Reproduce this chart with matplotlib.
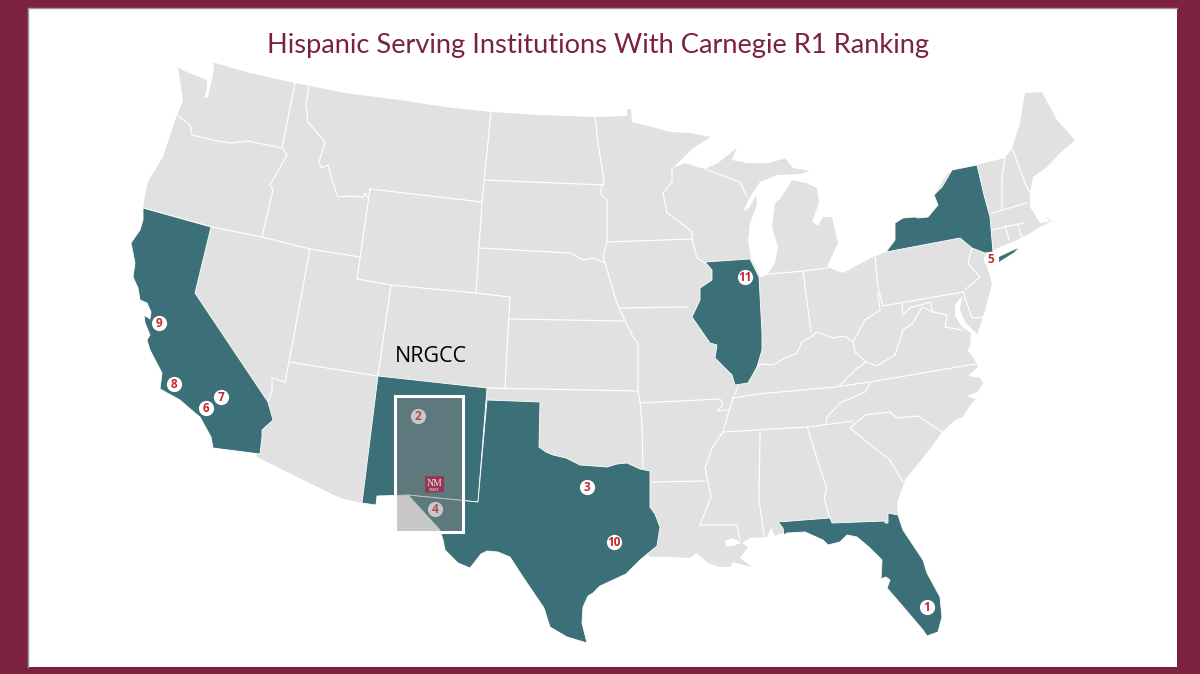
import matplotlib
matplotlib.use("Agg")
import matplotlib.pyplot as plt
from matplotlib.patches import Polygon, Rectangle

TITLE = "Hispanic Serving Institutions With Carnegie R1 Ranking"
REGION_LABEL = "NRGCC"
MAROON = "#7E2242"; LAND = "#E1E1E1"; TEAL = "#3C7079"; RED = "#C8252F"

# geography, traced in the picture's pixel space
LAND_OUTLINE = [(212,62),(250,73),(295,83),(345,93),(400,100),(445,107),(491,112),(540,115),(595,117),(627,116),(627,109),(631,109),(632,122),(652,127),(670,132),(690,133),(711,137),(693,148),(673,168),(685,163),(697,167),(705,169),(718,163),(733,151),(737,147),(732,160),(747,163),(770,163),(785,158),(793,168),(810,171),(800,174),(777,175),(760,182),(750,197),(743,212),(749,208),(756,195),(757,205),(750,223),(748,240),(751,258),(760,277),(767,275),(775,263),(778,247),(772,227),(775,203),(781,198),(792,180),(806,183),(817,188),(819,203),(812,222),(818,226),(823,217),(832,217),(838,243),(827,267),(843,273),(873,257),(886,252),(895,240),(895,223),(915,217),(928,217),(938,205),(934,195),(948,173),(977,165),(1005,158),(1012,148),(1020,123),(1025,93),(1042,92),(1057,120),(1075,140),(1060,153),(1047,167),(1033,177),(1030,193),(1030,207),(1040,223),(1050,222),(1046,217),(1052,221),(1040,227),(1027,235),(1017,240),(993,250),(987,254),(987,267),(992,283),(987,303),(983,317),(978,332),(973,343),(967,350),(973,357),(978,367),(968,376),(980,378),(983,383),(978,392),(966,396),(976,399),(970,405),(963,417),(955,420),(942,432),(933,445),(905,480),(897,503),(898,515),(888,530),(830,530),(783,533),(775,536),(771,528),(767,537),(750,538),(742,543),(748,547),(740,558),(752,567),(743,565),(733,562),(730,567),(720,567),(708,563),(697,553),(690,558),(673,557),(650,557),(600,500),(440,530),(408,495),(377,496),(376,505),(362,503),(340,498),(283,470),(257,457),(200,300),(143,207),(147,185),(150,178),(163,157),(177,115),(183,101),(178,67),(182,70),(207,80),(207,88),(204,98),(208,97),(210,88),(213,75),(214,65)]
WHITE_WATERS = [
    [(725,541),(733,538),(741,543),(733,546),(726,546)],
    [(962,296),(955,305),(955,316),(962,327),(971,333),(970,345),(975,346),(977,334),(965,322),(960,310)],
]
CALIFORNIA = [(143,208),(211,227),(195,293),(268,402),(273,420),(262,430),(262,437),(260,454),(213,448),(211,437),(200,417),(195,413),(180,400),(160,389),(162,373),(150,350),(147,340),(150,335),(145,323),(144,315),(150,319),(151,312),(147,303),(140,300),(138,288),(133,277),(135,263),(131,243),(140,230),(143,220)]
NEW_MEXICO = [(378,376),(487,388),(478,502),(408,495),(377,496),(376,505),(362,503)]
TEXAS = [(487,400),(540,402),(539,447),(546,452),(553,455),(566,458),(580,465),(594,466),(607,467),(617,464),(627,463),(640,469),(650,471),(650,507),(655,514),(660,527),(657,546),(640,560),(633,567),(626,574),(613,580),(600,586),(593,593),(588,596),(583,607),(582,623),(587,643),(567,637),(550,627),(544,608),(523,577),(510,557),(498,552),(487,551),(481,554),(470,568),(458,563),(445,550),(443,540),(440,530),(408,495),(478,502)]
ILLINOIS = [(705,262),(750,259),(759,277),(762,333),(762,350),(757,367),(748,383),(735,385),(732,375),(715,358),(717,345),(710,343),(703,333),(692,317),(700,300),(700,288),(712,280),(712,270)]
FLORIDA = [(778,522),(830,518),(832,523),(885,521),(885,523),(888,523),(888,513),(898,515),(903,530),(923,560),(927,573),(940,597),(942,617),(938,632),(927,636),(923,630),(900,603),(887,588),(890,580),(886,577),(883,578),(881,580),(882,560),(870,548),(857,537),(847,535),(840,542),(828,545),(823,540),(805,532),(787,533),(784,535),(783,528)]
NEW_YORK = [(886,252),(895,240),(895,223),(903,218),(915,217),(918,218),(928,217),(938,205),(934,195),(942,187),(952,170),(977,165),(984,195),(990,217),(993,252),(985,253),(972,248),(960,238)]
LONG_ISLAND = [(998,257),(1013,250),(1020,247),(1014,253),(998,263)]
TEAL_STATES = [CALIFORNIA, NEW_MEXICO, TEXAS, ILLINOIS, FLORIDA, NEW_YORK, LONG_ISLAND]

WEST_BORDERS = [
    [(177,115),(190,125),(192,135),(213,140),(230,143),(248,141),(282,148),(287,155),(270,185),(273,190),(262,237)],
    [(295,83),(282,148)],
    [(143,208),(212,227),(262,237),(310,249),(360,257)],
    [(309,86),(306,105),(308,122),(325,142),(319,162),(321,168),(328,165),(332,180),(338,197),(350,196),(363,197),(365,193),(368,198)],
    [(370,189),(482,202),(476,293),(391,285),(357,279),(370,189)],
    [(491,112),(482,202)],
    [(310,249),(289,362),(285,382),(272,378),(272,390),(268,402)],
    [(391,285),(378,375)],
    [(289,362),(378,376)],
    [(476,293),(510,297),(505,388)],
]
PLAINS_BORDERS = [
    [(485,180),(604,185)],
    [(480,248),(570,253),(583,260),(593,258),(605,263)],
    [(510,319),(625,321)],
    [(487,388),(638,391),(640,402),(642,423),(643,468)],
    [(595,117),(598,143),(604,180),(600,193),(607,200),(607,242),(603,257),(605,263),(613,290),(617,303),(625,321),(633,337),(638,343),(638,391)],
    [(607,242),(692,239)],
    [(620,308),(688,307)],
    [(640,403),(720,399),(723,405),(717,411),(729,410)],
    [(652,482),(705,481)],
    [(672,168),(672,182),(663,193),(667,213),(680,222),(692,232),(692,239),(697,258),(705,263)],
    [(705,169),(740,182),(747,197)],
]
EAST_BORDERS = [
    [(760,275),(803,271),(827,268)],
    [(803,271),(811,332)],
    [(875,257),(878,287),(883,306)],
    [(883,306),(963,292)],
    [(878,293),(880,310),(865,320),(857,335),(853,342),(845,336),(833,338),(817,332),(811,337),(802,342),(797,353),(785,358),(773,365),(760,364),(755,370)],
    [(853,342),(855,352),(866,362),(855,370),(840,385)],
    [(866,362),(877,366),(895,355),(903,330),(913,323),(922,307),(933,312),(947,315),(945,327),(962,330)],
    [(902,303),(903,315),(910,308),(930,302),(933,312)],
    [(963,292),(972,318),(983,317)],
    [(738,387),(733,398),(758,394),(835,387),(870,382),(975,364)],
    [(870,383),(865,392),(840,403),(827,417),(826,423)],
    [(733,398),(729,411),(723,432)],
    [(723,432),(808,427),(853,421)],
    [(850,428),(865,415),(890,412),(897,418),(918,416),(942,432)],
    [(850,428),(867,442),(890,460),(903,482)],
    [(807,427),(823,477),(827,488),(824,498),(830,518)],
    [(760,432),(759,500),(764,535)],
    [(723,432),(712,448),(705,468),(711,497),(700,525),(737,525),(740,540)],
]
NORTHEAST_BORDERS = [
    [(972,248),(968,263),(980,277),(965,290)],
    [(1005,158),(1002,177),(1002,210)],
    [(992,213),(1027,203)],
    [(1012,148),(1025,183),(1030,193)],
    [(992,230),(1023,223)],
    [(1018,225),(1022,238)],
    [(1005,226),(1009,240)],
]
BORDER_GROUPS = [WEST_BORDERS, PLAINS_BORDERS, EAST_BORDERS, NORTHEAST_BORDERS]

# numbered institutions
RANKS = ["1","2","3","4","5","6","7","8","9","10","11"]
RANK_X = [927,418,587,435,991,206,221,174,159,614,745]
RANK_Y = [607,416,487,509,259,408,397,384,323,542,277]

fig = plt.figure(figsize=(12, 6.74), dpi=100, facecolor=MAROON)
ax = fig.add_axes([0, 0, 1, 1])
ax.set_xlim(0, 1200); ax.set_ylim(674, 0); ax.axis("off")

ax.add_patch(Rectangle((28, 8), 1149, 659, fc="white", ec="none", zorder=1))
ax.plot([28, 28, 1177], [667, 8, 8], color="#9a9a9a", lw=1.0, zorder=1.5)
ax.add_patch(Polygon(LAND_OUTLINE, closed=True, fc=LAND, ec="none", zorder=2))
for w in WHITE_WATERS:
    ax.add_patch(Polygon(w, closed=True, fc="white", ec="none", zorder=3))
for group in BORDER_GROUPS:
    for line in group:
        ax.plot(*zip(*line), color="white", lw=0.85, solid_joinstyle="round", zorder=4)
for st in TEAL_STATES:
    ax.add_patch(Polygon(st, closed=True, fc=TEAL, ec="white", lw=0.6, zorder=5))

ax.scatter(RANK_X, RANK_Y, s=120, c="white", linewidths=0, zorder=6)
for r, x, y in zip(RANKS, RANK_X, RANK_Y):
    ax.text(x, y + 0.3, r, color=RED, fontsize=8.5, fontweight="bold", family="Open Sans",
            ha="center", va="center", zorder=7)

ax.add_patch(Rectangle((395, 396), 68, 136, fc=(133/255, 133/255, 133/255, 0.46),
                       ec="white", lw=2.2, zorder=8))
ax.add_patch(Polygon([(425,476),(444,476),(444,492),(425,493)], closed=True, fc="#933A52", ec="none", zorder=9))
ax.text(434.5, 483, "NM", color="#F3E3E6", fontsize=7, family="Liberation Serif", ha="center", va="center", zorder=10)
ax.text(434.5, 490, "STATE", color="#F3E3E6", fontsize=2.5, family="Liberation Sans", ha="center", va="center", zorder=10)

ax.text(431, 357, REGION_LABEL, color="black", fontsize=15.5, family="Open Sans", ha="center", va="center", zorder=7)
ax.text(598, 45, TITLE, color="#7B2142", fontsize=19.6, family="Lato", ha="center", va="center", zorder=7)

fig.savefig("out.png", dpi=100, facecolor=MAROON)
